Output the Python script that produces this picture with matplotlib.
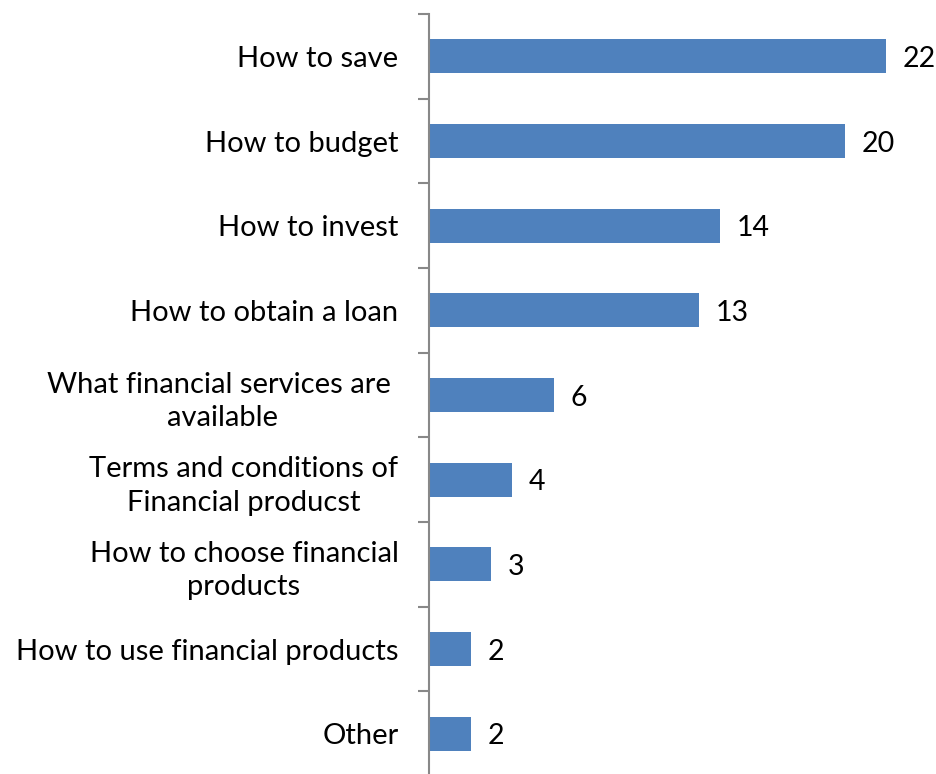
import matplotlib.pyplot as plt

categories = [
    "How to save",
    "How to budget",
    "How to invest",
    "How to obtain a loan",
    "What financial services are \navailable",
    "Terms and conditions of\nFinancial producst",
    "How to choose financial\nproducts",
    "How to use financial products",
    "Other",
]
counts = [22, 20, 14, 13, 6, 4, 3, 2, 2]

plt.rcParams['font.family'] = ['Lato', 'DejaVu Sans']

fig = plt.figure(figsize=(9.37, 7.74), dpi=100)
ax = fig.add_axes([0.4578, -0.0026, 0.5322, 0.9845])

pos = list(range(len(categories)))
ax.barh(pos, counts, height=0.4, color="#4f81bd")
ax.set_ylim(len(categories) - 0.5, -0.5)
ax.set_xlim(0, 24)

for y, v in zip(pos, counts):
    ax.annotate(str(v), (v, y), xytext=(12, -2), textcoords="offset points",
                va="center", ha="left", fontsize=20.5)

# category boundary ticks on the left spine
ax.set_yticks([p - 0.5 for p in pos] + [len(categories) - 0.5])
ax.set_yticklabels([])
ax.set_yticks(pos, minor=True)
ax.set_yticklabels(categories, minor=True, fontsize=21,
                   multialignment="center", linespacing=1.35)
ax.tick_params(axis="y", which="major", length=8, width=1.5, color="#888888")
ax.tick_params(axis="y", which="minor", length=0, pad=22)

ax.set_xticks([])
for s in ["top", "right", "bottom"]:
    ax.spines[s].set_visible(False)
ax.spines["left"].set_color("#888888")
ax.spines["left"].set_linewidth(1.5)

fig.savefig("out.png", dpi=100)
